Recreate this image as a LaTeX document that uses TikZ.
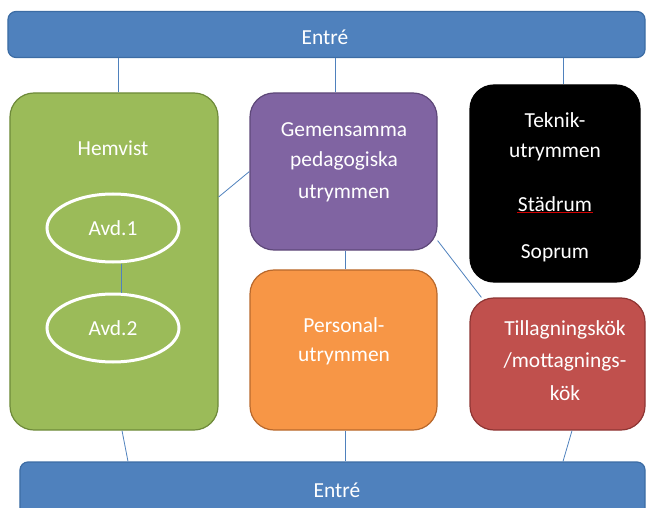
\documentclass[tikz,border=0pt]{standalone}
\usepackage{fontspec}
\setmainfont{Carlito}
\usetikzlibrary{shapes.geometric}
\definecolor{barblue}{HTML}{4F81BD}
\definecolor{barbord}{HTML}{3C6CA4}
\definecolor{grfill}{HTML}{9BBB59}
\definecolor{grbord}{HTML}{6E8A3A}
\definecolor{pufill}{HTML}{8064A2}
\definecolor{pubord}{HTML}{5E4879}
\definecolor{orfill}{HTML}{F79646}
\definecolor{orbord}{HTML}{B8682C}
\definecolor{refill}{HTML}{C0504D}
\definecolor{rebord}{HTML}{8E3533}
\definecolor{connblue}{HTML}{4F81BD}
\definecolor{spellred}{HTML}{D00000}
\begin{document}
\begin{tikzpicture}[x=1bp,y=-1bp,
  bar/.style={draw=barbord, fill=barblue, line width=1.2bp, rounded corners=8bp, inner sep=0},
  box/.style={line width=1.2bp, rounded corners=24bp, inner sep=0},
  lbl/.style={text=white, font=\fontsize{21.5}{25}\selectfont, inner sep=1bp},
  oval/.style={ellipse, draw=white, line width=3bp, fill=grfill, text=white, font=\fontsize{21.5}{25}\selectfont, inner sep=0},
  conn/.style={draw=connblue, line width=0.8bp}]
\useasboundingbox (0,0) rectangle (648,508);
% bars
\node[bar, minimum width=637bp, minimum height=46bp] (top) at (326.5,34.5) {};
\node[lbl] (toptxt) at (325,37) {Entré};
\node[bar, minimum width=625bp, minimum height=56bp] (bot) at (332.5,490) {};
\node[lbl] (bottxt) at (337,490) {Entré};
% boxes
\node[box, draw=grbord, fill=grfill, minimum width=208bp, minimum height=337bp] (green) at (114,261.5) {};
\node[box, draw=pubord, fill=pufill, minimum width=187bp, minimum height=157bp] (purple) at (343.5,171.5) {};
\node[box, draw=black, fill=black, minimum width=170bp, minimum height=197bp] (black) at (555,183.5) {};
\node[box, draw=orbord, fill=orfill, minimum width=187bp, minimum height=160bp] (orange) at (343.5,350) {};
\node[box, draw=rebord, fill=refill, minimum width=175bp, minimum height=132bp] (red) at (557.5,364) {};
% ovals
\node[oval, minimum width=132bp, minimum height=68bp] (avd1) at (113,228) {Avd.1};
\node[oval, minimum width=132bp, minimum height=68bp] (avd2) at (113,328) {Avd.2};
% texts
\node[lbl] (hem) at (113,148) {Hemvist};
\node[lbl] (g1) at (344,130) {Gemensamma};
\node[lbl] (g2) at (344,161) {pedagogiska};
\node[lbl] (g3) at (344,193) {utrymmen};
\node[lbl] (k1) at (555,120) {Teknik-};
\node[lbl] (k2) at (555,152) {utrymmen};
\node[lbl] (stad) at (555,204) {Städrum};
\node[lbl] (sop) at (555,253) {Soprum};
\node[lbl] (p1) at (344,325) {Personal-};
\node[lbl] (p2) at (344,356) {utrymmen};
\node[lbl] (r1) at (565,330) {Tillagningskök};
\node[lbl] (r2) at (565,362) {/mottagnings-};
\node[lbl] (r3) at (565,393) {kök};
\draw[spellred, line width=1bp] ([yshift=0.5bp]stad.south west) -- ([yshift=0.5bp]stad.south east);
% connectors
\draw[conn] ([xshift=4bp]green.north) -- ([xshift=4bp]green.north |- top.south);
\draw[conn] ([xshift=-8.5bp]purple.north) -- ([xshift=-8.5bp]purple.north |- top.south);
\draw[conn] ([xshift=8bp]black.north) -- ([xshift=8bp]black.north |- top.south);
\draw[conn] ([yshift=64.5bp]green.east) -- (purple.west);
\draw[conn] ([xshift=8bp]avd1.south) -- ([xshift=8bp]avd2.north);
\draw[conn] ([xshift=1.5bp]purple.south) -- ([xshift=1.5bp]orange.north);
\draw[conn] ([yshift=10bp]purple.south east) -- ([xshift=12bp]red.north west);
\draw[conn] ([xshift=8bp]green.south) -- ([xshift=14bp]green.south |- bot.north);
\draw[conn] ([xshift=1.5bp]orange.south) -- ([xshift=1.5bp]orange.south |- bot.north);
\draw[conn] ([xshift=14.5bp]red.south) -- ([xshift=5.5bp]red.south |- bot.north);
\end{tikzpicture}
\end{document}
